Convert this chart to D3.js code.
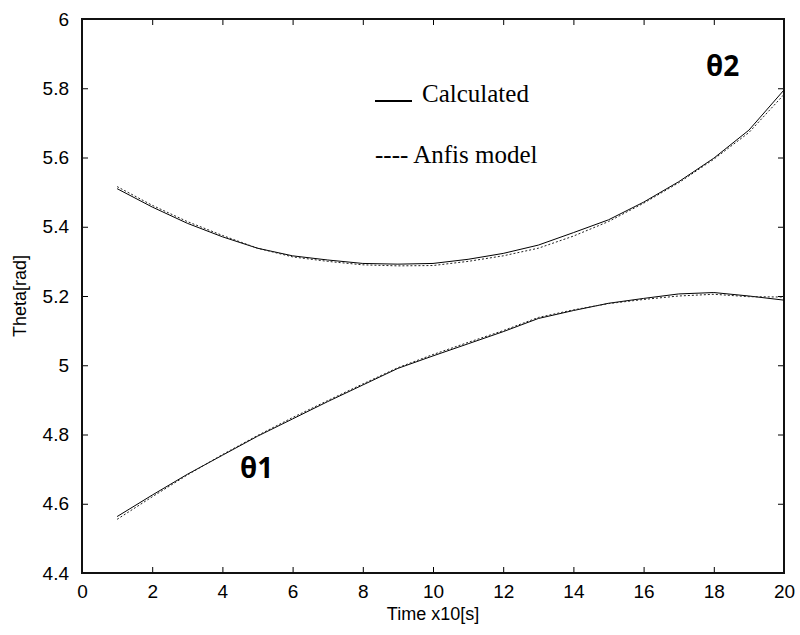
<!DOCTYPE html>
<meta charset="utf-8">
<head>
<style>
  body { margin: 0; background: #fff; }
  .axis text { font: 19px "Liberation Sans", Arial, sans-serif; fill: #000; }
  .axis path { display: none; }
  .axis line { stroke: #000; stroke-width: 1; }
</style>
</head>
<body>
<script src="https://cdnjs.cloudflare.com/ajax/libs/d3/7.8.5/d3.min.js"></script>
<script>

// time steps (x10 s)
const time = d3.range(1, 21);

const theta1Calc  = [4.563, 4.625, 4.685, 4.740, 4.795, 4.845, 4.895, 4.943, 4.991, 5.027,
                     5.062, 5.097, 5.135, 5.158, 5.179, 5.193, 5.206, 5.210, 5.200, 5.188];
const theta1Anfis = [4.555, 4.620, 4.683, 4.742, 4.797, 4.849, 4.898, 4.946, 4.993, 5.031,
                     5.066, 5.100, 5.138, 5.160, 5.178, 5.190, 5.200, 5.205, 5.198, 5.197];
const theta2Calc  = [5.510, 5.457, 5.410, 5.371, 5.338, 5.316, 5.304, 5.294, 5.292, 5.294,
                     5.306, 5.323, 5.347, 5.383, 5.420, 5.471, 5.530, 5.598, 5.679, 5.795];
const theta2Anfis = [5.516, 5.462, 5.415, 5.375, 5.338, 5.313, 5.300, 5.290, 5.287, 5.288,
                     5.300, 5.316, 5.338, 5.373, 5.415, 5.468, 5.527, 5.595, 5.672, 5.782];

const xTicks = [0, 2, 4, 6, 8, 10, 12, 14, 16, 18, 20];
const yTicks = [4.4, 4.6, 4.8, 5, 5.2, 5.4, 5.6, 5.8, 6];

const margin = {top: 19, right: 16, bottom: 62, left: 82},
    width = 800 - margin.left - margin.right,
    height = 635 - margin.top - margin.bottom;

const svg = d3.select("body").append("svg")
    .attr("width", 800)
    .attr("height", 635)
  .append("g")
    .attr("transform", "translate(" + margin.left + "," + margin.top + ")");

const x = d3.scaleLinear().domain([0, 20]).range([0, width]);
const y = d3.scaleLinear().domain([4.4, 6]).range([height, 0]);

// ticks point inward on all four sides
svg.append("g").attr("class", "axis")
    .attr("transform", "translate(0," + height + ")")
    .call(d3.axisBottom(x).tickValues(xTicks).tickSizeInner(-6).tickPadding(12).tickFormat(d3.format("d")));
svg.append("g").attr("class", "axis")
    .call(d3.axisTop(x).tickValues(xTicks).tickSizeInner(-6).tickFormat(""));
svg.append("g").attr("class", "axis")
    .call(d3.axisLeft(y).tickValues(yTicks).tickSizeInner(-6).tickPadding(13).tickFormat(d => d3.format("")(+d.toFixed(1))));
svg.append("g").attr("class", "axis")
    .attr("transform", "translate(" + width + ",0)")
    .call(d3.axisRight(y).tickValues(yTicks).tickSizeInner(-6).tickFormat(""));

svg.append("rect")
    .attr("width", width)
    .attr("height", height)
    .attr("fill", "none")
    .attr("stroke", "#111")
    .attr("stroke-width", 2);

const line = d3.line()
    .x((d, i) => x(time[i]))
    .y(d => y(d));

[theta1Calc, theta2Calc].forEach(s => {
  svg.append("path").datum(s)
      .attr("d", line)
      .attr("fill", "none")
      .attr("stroke", "#000")
      .attr("stroke-width", 1);
});
[theta1Anfis, theta2Anfis].forEach(s => {
  svg.append("path").datum(s)
      .attr("d", line)
      .attr("fill", "none")
      .attr("stroke", "#222")
      .attr("stroke-width", 1)
      .attr("stroke-dasharray", "2,2");
});

// legend
const legend = svg.append("g").attr("transform", "translate(" + (375 - margin.left) + "," + (0 - margin.top) + ")");
legend.append("line")
    .attr("x1", 0).attr("x2", 37)
    .attr("y1", 101).attr("y2", 101)
    .attr("stroke", "#000").attr("stroke-width", 2);
legend.append("text")
    .attr("x", 47).attr("y", 102)
    .style("font", "25px 'Liberation Serif', 'Times New Roman', serif")
    .text("Calculated");
legend.append("text")
    .attr("x", 0).attr("y", 163)
    .style("font", "25px 'Liberation Serif', 'Times New Roman', serif")
    .text("---- Anfis model");

// curve labels
svg.append("text")
    .attr("x", 240 - margin.left).attr("y", 478 - margin.top)
    .style("font", "bold 28px 'Noto Sans', sans-serif")
    .text("θ1");
svg.append("text")
    .attr("x", 706 - margin.left).attr("y", 76 - margin.top)
    .style("font", "bold 28px 'Noto Sans', sans-serif")
    .text("θ2");

// axis labels
svg.append("text")
    .attr("x", width / 2).attr("y", height + 47)
    .attr("text-anchor", "middle")
    .style("font", "18px 'Liberation Sans', Arial, sans-serif")
    .text("Time x10[s]");
svg.append("text")
    .attr("transform", "rotate(-90)")
    .attr("x", -height / 2).attr("y", -56)
    .attr("text-anchor", "middle")
    .style("font", "18px 'Liberation Sans', Arial, sans-serif")
    .text("Theta[rad]");

</script>
</body>
